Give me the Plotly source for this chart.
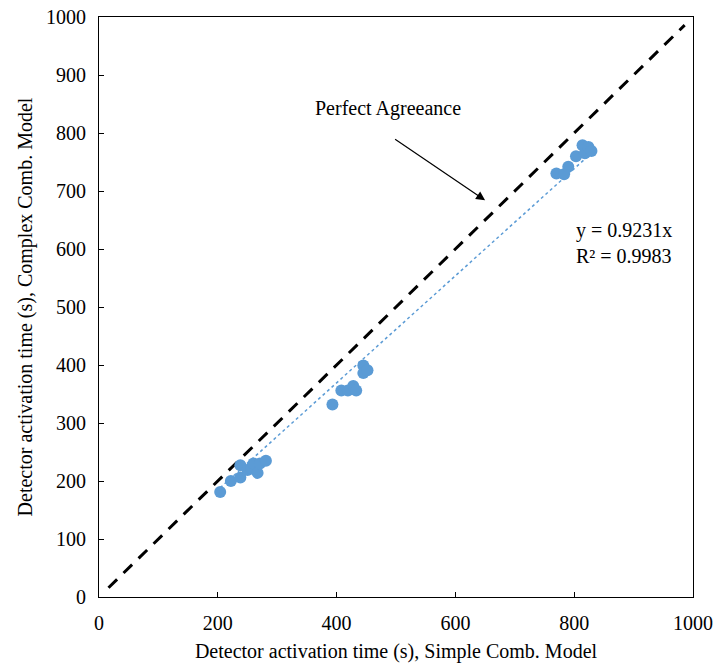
import plotly.graph_objects as go

# Detector activation times (s): simple vs complex combustion model
simple_model = [204, 222, 238, 238, 250, 256, 260, 267, 271, 281,
                393, 408, 419, 428, 433, 445, 445, 452,
                770, 783, 790, 803, 814, 818, 824, 829]
complex_model = [181, 200, 227, 206, 219, 222, 230, 214, 230, 235,
                 332, 356, 356, 364, 356, 399, 386, 391,
                 730, 729, 742, 760, 779, 765, 776, 769]

slope = 0.9231
r_squared = 0.9983
agreement_range = [16, 986]

axis_ticks = [0, 200, 400, 600, 800, 1000]
y_ticks = [0, 100, 200, 300, 400, 500, 600, 700, 800, 900, 1000]

blue = "#5B9BD5"
font = "Liberation Serif"
fsize = 20

fig = go.Figure()

# 1:1 perfect agreement line
fig.add_trace(go.Scatter(
    x=agreement_range, y=agreement_range, mode="lines",
    line=dict(color="black", width=3, dash="12px,9px"),
    showlegend=False, hoverinfo="skip"))

# Linear trend through the origin
trend_x = [min(simple_model), max(simple_model)]
trend_y = [slope * v for v in trend_x]
fig.add_trace(go.Scatter(
    x=trend_x, y=trend_y, mode="lines",
    line=dict(color=blue, width=1.5, dash="dot"),
    showlegend=False, hoverinfo="skip"))

fig.add_trace(go.Scatter(
    x=simple_model, y=complex_model, mode="markers",
    marker=dict(color=blue, size=12),
    showlegend=False))

fig.add_annotation(x=487, y=843, text="Perfect Agreeance", showarrow=False,
                   font=dict(family=font, size=fsize, color="black"))
fig.add_annotation(x=650, y=684, ax=496, ay=791, xref="x", yref="y",
                   axref="x", ayref="y", text="", showarrow=True,
                   arrowhead=2, arrowsize=1.5, arrowwidth=1.2, arrowcolor="black")
fig.add_annotation(x=800, y=610, xanchor="left", align="left", showarrow=False,
                   text=f"y = {slope}x<br>R² = {r_squared}",
                   font=dict(family=font, size=fsize, color="black"))

axis_common = dict(
    showgrid=False, zeroline=False, showline=True, linecolor="black",
    linewidth=1, mirror=True, ticks="inside", ticklen=5, tickcolor="black",
    ticklabelstandoff=8, automargin=False,
    tickfont=dict(family=font, size=fsize, color="black"),
)

fig.update_xaxes(range=[0, 1000], tickvals=axis_ticks,
                 title=dict(text="Detector activation time (s), Simple Comb. Model",
                            font=dict(family=font, size=fsize, color="black"),
                            standoff=10),
                 **axis_common)
fig.update_yaxes(range=[0, 1000], tickvals=y_ticks,
                 title=dict(text="Detector activation time (s), Complex Comb. Model",
                            font=dict(family=font, size=fsize, color="black"),
                            standoff=8),
                 **axis_common)

fig.update_layout(
    width=719, height=667,
    margin=dict(l=99, r=26, t=17, b=70),
    paper_bgcolor="white", plot_bgcolor="white",
)

fig.write_html("out.html")
